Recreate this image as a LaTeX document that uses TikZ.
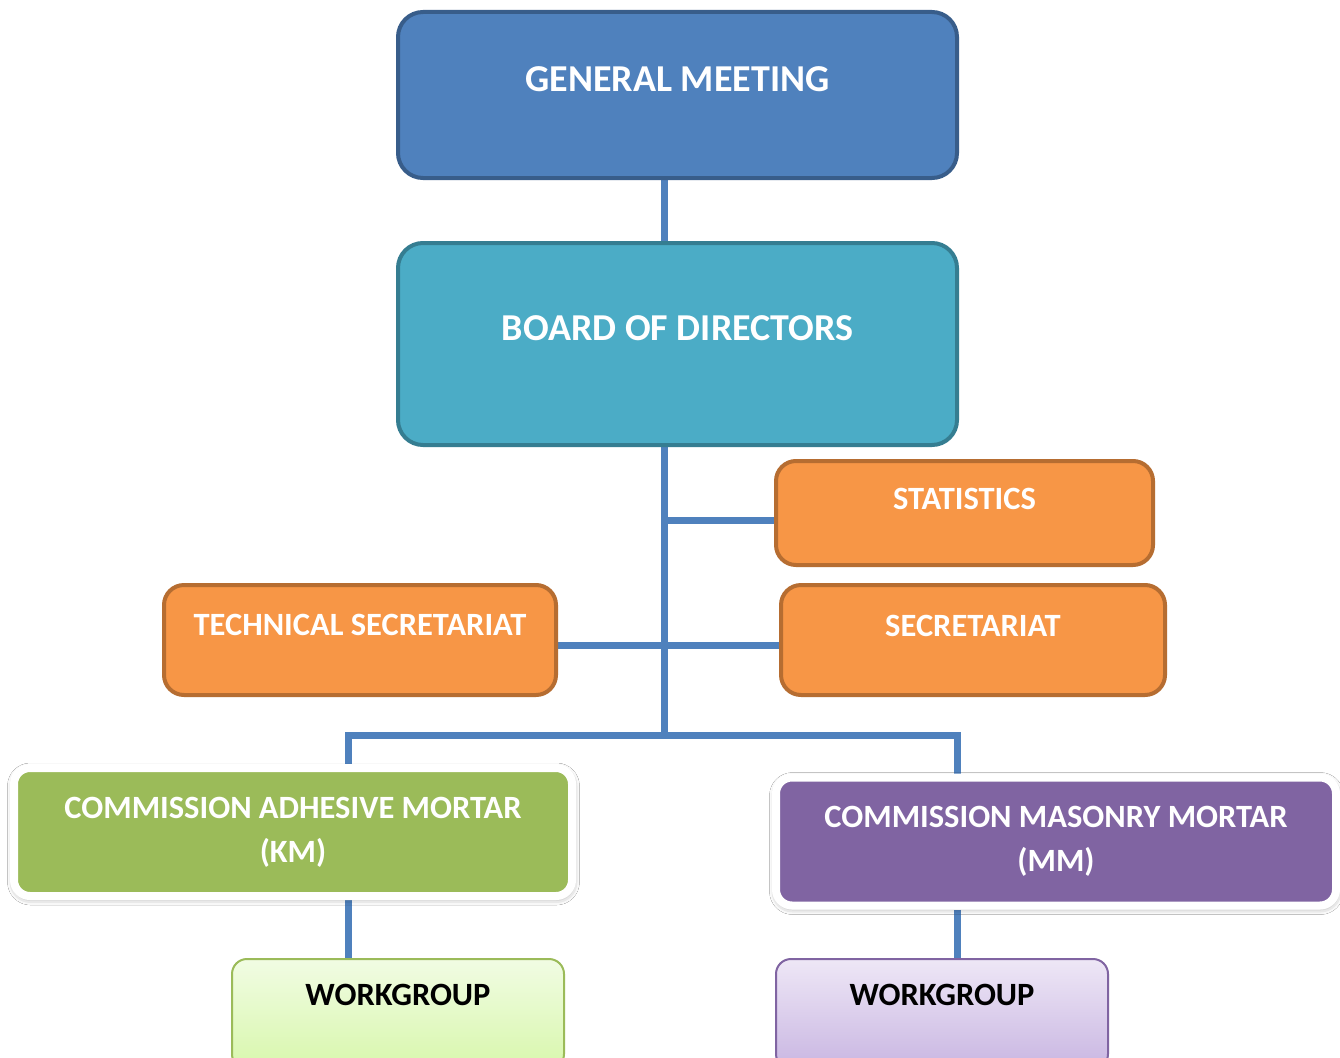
\documentclass[tikz,border=0pt]{standalone}
\usepackage{fontspec}
\setmainfont{Carlito}
\usepackage{xcolor}
\definecolor{Orgblue}{HTML}{4F81BD}
\definecolor{Orgblueline}{HTML}{385D8A}
\definecolor{Orgteal}{HTML}{4BACC6}
\definecolor{Orgtealline}{HTML}{357D91}
\definecolor{Orgorange}{HTML}{F79646}
\definecolor{Orgorangeline}{HTML}{B66D31}
\definecolor{Orggreen}{HTML}{9BBB59}
\definecolor{Orgpurple}{HTML}{8064A2}
\definecolor{Worklime}{HTML}{F1FCE3}
\definecolor{Worklimedark}{HTML}{D8F7AC}
\definecolor{Worklilac}{HTML}{EEE7F6}
\definecolor{Worklilacdark}{HTML}{C9B6E2}
\usepackage{tikz}
\usetikzlibrary{backgrounds,shadows.blur}
\tikzstyle{orgbox} = [
    rectangle,
    inner xsep=0pt,
    inner ysep=0pt,
    text=white,
    font=\fontsize{38}{44}\selectfont\bfseries
]
\tikzstyle{unitbox} = [
    orgbox,
    rounded corners=20pt,
    line width=4pt,
    fill=Orgorange,
    draw=Orgorangeline,
    font=\fontsize{32.5}{44}\selectfont\bfseries
]
\tikzstyle{commbox} = [
    orgbox,
    rounded corners=16pt,
    line width=8pt,
    draw=white,
    align=center,
    minimum height=128pt,
    blur shadow={shadow xshift=0.5pt, shadow yshift=-2pt, shadow blur radius=7pt, shadow opacity=45},
    font=\fontsize{32.5}{44}\selectfont\bfseries
]
\tikzstyle{workbox} = [
    orgbox,
    rounded corners=15pt,
    line width=2pt,
    text=black,
    minimum width=332pt,
    text height=46pt,
    text depth=64pt,
    font=\fontsize{32.5}{44}\selectfont\bfseries
]
\tikzstyle{link} = [
    line width=7pt,
    Orgblue
]

\begin{document}
\begin{tikzpicture}[x=1pt, y=-1pt]
    \clip (0,0) rectangle (1340,1057);
    % General meeting and board
    \node[orgbox, rounded corners=25pt, line width=4pt, fill=Orgblue, draw=Orgblueline,
        minimum width=559pt, text height=79pt, text depth=87pt] (meeting) at (677.5,95) {GENERAL MEETING};
    \node[orgbox, rounded corners=25pt, line width=4pt, fill=Orgteal, draw=Orgtealline,
        minimum width=559pt, text height=97pt, text depth=105pt] (board) at (677.5,344) {BOARD OF DIRECTORS};
    % Staff units
    \node[unitbox, minimum width=377pt, text height=48pt, text depth=56pt] (stats) at (964.5,513) {STATISTICS};
    \node[unitbox, minimum width=384pt, text height=51pt, text depth=59pt] (secr) at (973,640) {SECRETARIAT};
    \node[unitbox, minimum width=392pt, text height=50pt, text depth=60pt] (techsecr) at (360,640) {TECHNICAL SECRETARIAT};
    % Commissions
    \node[commbox, fill=Orggreen, minimum width=558pt] (adhesive) at (293,832) {COMMISSION ADHESIVE MORTAR\\(KM)};
    \node[commbox, fill=Orgpurple, minimum width=560pt] (masonry) at (1056,841.5) {COMMISSION MASONRY MORTAR\\(MM)};
    % Workgroups
    \node[workbox, draw=Orggreen, top color=Worklime, bottom color=Worklimedark,
        anchor=north] (workleft) at (398,958) {WORKGROUP};
    \node[workbox, draw=Orgpurple, top color=Worklilac, bottom color=Worklilacdark,
        anchor=north] (workright) at (942,958) {WORKGROUP};
    % Connectors
    \coordinate (split) at (664,735);
    \coordinate (leftdrop) at (348,735);
    \coordinate (rightdrop) at (957,735);
    \begin{scope}[on background layer]
        \fill[white] (0,0) rectangle (1340,1057);
        \draw[link] (meeting.south -| split) -- (board.north -| split);
        \draw[link] (board.south -| split) -- (split);
        \draw[link] ([yshift=-7pt]stats.west) -- ([yshift=-7pt]stats.west -| split);
        \draw[link] ([yshift=-5pt]techsecr.east) -- ([yshift=-5pt]secr.west);
        \draw[link] (adhesive.north -| leftdrop) -- (leftdrop) -- (rightdrop) -- (masonry.north -| rightdrop);
        \draw[link] (adhesive.south -| leftdrop) -- (workleft.north -| leftdrop);
        \draw[link] (masonry.south -| rightdrop) -- (workright.north -| rightdrop);
    \end{scope}
\end{tikzpicture}
\end{document}
